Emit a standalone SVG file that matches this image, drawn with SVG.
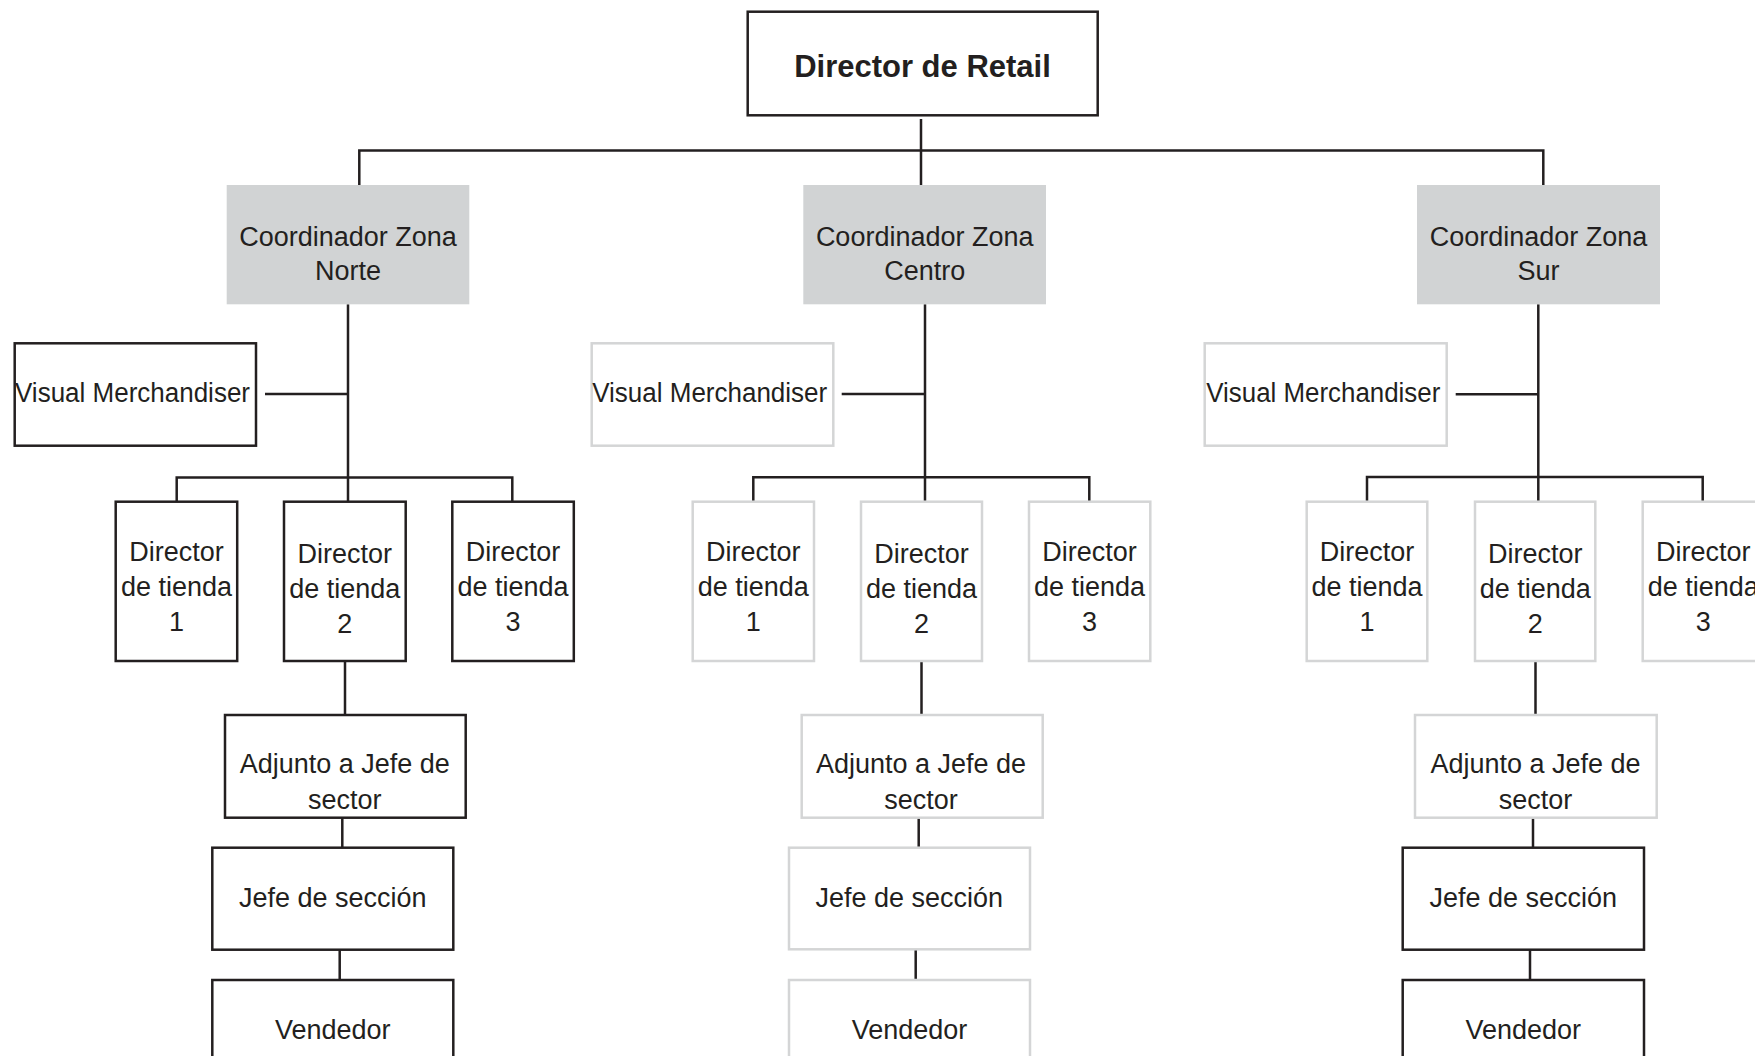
<svg xmlns="http://www.w3.org/2000/svg" width="1755" height="1056" viewBox="0 0 1755 1056">
  <style>
    .bk { fill: #ffffff; stroke: #231f20; stroke-width: 2.5; }
    .gy { fill: #ffffff; stroke: #d4d5d6; stroke-width: 2.5; }
    .co { fill: #d1d3d4; stroke: none; }
    .tx { font-family: "Liberation Sans", Arial, sans-serif; font-size: 27px; fill: #231f20; text-anchor: middle; }
    .hd { font-family: "Liberation Sans", Arial, sans-serif; font-size: 31px; font-weight: bold; fill: #231f20; text-anchor: middle; }
    .ln { fill: none; stroke: #231f20; stroke-width: 2.5; }
  </style>
  <rect width="1755" height="1056" fill="#ffffff"/>

  <!-- connectors -->
  <g id="connectors" class="ln">
    <!-- top level -->
    <path d="M921 119 V185 M359.3 185 V150.5 H1543.3 V185"/>
    <!-- Norte -->
    <path d="M348 304.3 V501.7 M265 394 H348 M176.7 501.7 V477.5 H512.3 V501.7 M345 661 V715 M342.3 817.7 V847.7 M339.7 949.7 V980"/>
    <!-- Centro -->
    <path d="M925 304.3 V501.7 M841.7 394 H925 M753.3 501.7 V477.3 H1089.3 V501.7 M921.5 661 V715 M918.7 817.7 V847.7 M915.7 949.3 V980"/>
    <!-- Sur -->
    <path d="M1538.3 304.3 V501.7 M1455.7 394.3 H1538.3 M1367 501.7 V477 H1702.7 V501.7 M1535.5 661 V715 M1533 817.7 V847.7 M1530 949.7 V980"/>
  </g>

  <!-- head -->
  <g id="director-retail">
    <rect class="bk" x="747.7" y="11.7" width="350" height="103.6"/>
    <text class="hd" x="922.5" y="77.3">Director de Retail</text>
  </g>

  <!-- zone coordinators -->
  <g id="coord-norte">
    <rect class="co" x="226.7" y="185" width="242.6" height="119.3"/>
    <text class="tx" x="348" y="245.5">Coordinador Zona</text>
    <text class="tx" x="348" y="280">Norte</text>
  </g>
  <g id="coord-centro">
    <rect class="co" x="803.3" y="185" width="242.7" height="119.3"/>
    <text class="tx" x="924.7" y="245.5">Coordinador Zona</text>
    <text class="tx" x="924.7" y="280">Centro</text>
  </g>
  <g id="coord-sur">
    <rect class="co" x="1417" y="185" width="243" height="119.3"/>
    <text class="tx" x="1538.5" y="245.5">Coordinador Zona</text>
    <text class="tx" x="1538.5" y="280">Sur</text>
  </g>

  <!-- visual merchandisers -->
  <g id="vm-norte">
    <rect class="bk" x="14.7" y="343.3" width="241.3" height="102.4"/>
    <text class="tx" x="132.5" y="401.7" textLength="235" lengthAdjust="spacingAndGlyphs">Visual Merchandiser</text>
  </g>
  <g id="vm-centro">
    <rect class="gy" x="591.7" y="343.3" width="241.6" height="102.4"/>
    <text class="tx" x="709.7" y="401.7" textLength="235" lengthAdjust="spacingAndGlyphs">Visual Merchandiser</text>
  </g>
  <g id="vm-sur">
    <rect class="gy" x="1204.7" y="343.3" width="242" height="102.4"/>
    <text class="tx" x="1323.3" y="401.7" textLength="234" lengthAdjust="spacingAndGlyphs">Visual Merchandiser</text>
  </g>

  <!-- store directors: Norte -->
  <g id="tienda-norte-1">
    <rect class="bk" x="115.7" y="501.7" width="121.5" height="159.3"/>
    <text class="tx" x="176.5" y="560.7">Director</text>
    <text class="tx" x="176.5" y="595.7">de tienda</text>
    <text class="tx" x="176.5" y="630.7">1</text>
  </g>
  <g id="tienda-norte-2">
    <rect class="bk" x="284" y="501.7" width="121.7" height="159.3"/>
    <text class="tx" x="344.8" y="562.5">Director</text>
    <text class="tx" x="344.8" y="598">de tienda</text>
    <text class="tx" x="344.8" y="633">2</text>
  </g>
  <g id="tienda-norte-3">
    <rect class="bk" x="452.3" y="501.7" width="121.5" height="159.3"/>
    <text class="tx" x="513" y="560.7">Director</text>
    <text class="tx" x="513" y="595.7">de tienda</text>
    <text class="tx" x="513" y="630.7">3</text>
  </g>

  <!-- store directors: Centro -->
  <g id="tienda-centro-1">
    <rect class="gy" x="692.7" y="501.7" width="121.3" height="159.3"/>
    <text class="tx" x="753.3" y="560.7">Director</text>
    <text class="tx" x="753.3" y="595.7">de tienda</text>
    <text class="tx" x="753.3" y="630.7">1</text>
  </g>
  <g id="tienda-centro-2">
    <rect class="gy" x="861" y="501.7" width="121" height="159.3"/>
    <text class="tx" x="921.5" y="562.5">Director</text>
    <text class="tx" x="921.5" y="598">de tienda</text>
    <text class="tx" x="921.5" y="633">2</text>
  </g>
  <g id="tienda-centro-3">
    <rect class="gy" x="1029" y="501.7" width="121.3" height="159.3"/>
    <text class="tx" x="1089.6" y="560.7">Director</text>
    <text class="tx" x="1089.6" y="595.7">de tienda</text>
    <text class="tx" x="1089.6" y="630.7">3</text>
  </g>

  <!-- store directors: Sur -->
  <g id="tienda-sur-1">
    <rect class="gy" x="1306.7" y="501.7" width="120.6" height="159.3"/>
    <text class="tx" x="1367" y="560.7">Director</text>
    <text class="tx" x="1367" y="595.7">de tienda</text>
    <text class="tx" x="1367" y="630.7">1</text>
  </g>
  <g id="tienda-sur-2">
    <rect class="gy" x="1475" y="501.7" width="120.3" height="159.3"/>
    <text class="tx" x="1535.2" y="562.5">Director</text>
    <text class="tx" x="1535.2" y="598">de tienda</text>
    <text class="tx" x="1535.2" y="633">2</text>
  </g>
  <g id="tienda-sur-3">
    <rect class="gy" x="1642.7" y="501.7" width="121.3" height="159.3"/>
    <text class="tx" x="1703.3" y="560.7">Director</text>
    <text class="tx" x="1703.3" y="595.7">de tienda</text>
    <text class="tx" x="1703.3" y="630.7">3</text>
  </g>

  <!-- sector assistants -->
  <g id="adjunto-norte">
    <rect class="bk" x="225" y="715" width="240.7" height="102.7"/>
    <text class="tx" x="344.8" y="773.3">Adjunto a Jefe de</text>
    <text class="tx" x="344.8" y="809">sector</text>
  </g>
  <g id="adjunto-centro">
    <rect class="gy" x="801.7" y="715" width="241" height="102.7"/>
    <text class="tx" x="921" y="773.3">Adjunto a Jefe de</text>
    <text class="tx" x="921" y="809">sector</text>
  </g>
  <g id="adjunto-sur">
    <rect class="gy" x="1415" y="715" width="241.7" height="102.7"/>
    <text class="tx" x="1535.5" y="773.3">Adjunto a Jefe de</text>
    <text class="tx" x="1535.5" y="809">sector</text>
  </g>

  <!-- section heads -->
  <g id="jefe-norte">
    <rect class="bk" x="212.3" y="847.7" width="241" height="102"/>
    <text class="tx" x="332.8" y="906.7">Jefe de sección</text>
  </g>
  <g id="jefe-centro">
    <rect class="gy" x="789" y="847.7" width="241" height="101.6"/>
    <text class="tx" x="909.3" y="906.7">Jefe de sección</text>
  </g>
  <g id="jefe-sur">
    <rect class="bk" x="1402.7" y="847.7" width="241.3" height="102"/>
    <text class="tx" x="1523.2" y="906.7">Jefe de sección</text>
  </g>

  <!-- sales staff -->
  <g id="vendedor-norte">
    <rect class="bk" x="212.3" y="980" width="241" height="100"/>
    <text class="tx" x="332.8" y="1038.5">Vendedor</text>
  </g>
  <g id="vendedor-centro">
    <rect class="gy" x="789" y="980" width="241" height="100"/>
    <text class="tx" x="909.5" y="1038.5">Vendedor</text>
  </g>
  <g id="vendedor-sur">
    <rect class="bk" x="1402.7" y="980" width="241.3" height="100"/>
    <text class="tx" x="1523.2" y="1038.5">Vendedor</text>
  </g>
</svg>
